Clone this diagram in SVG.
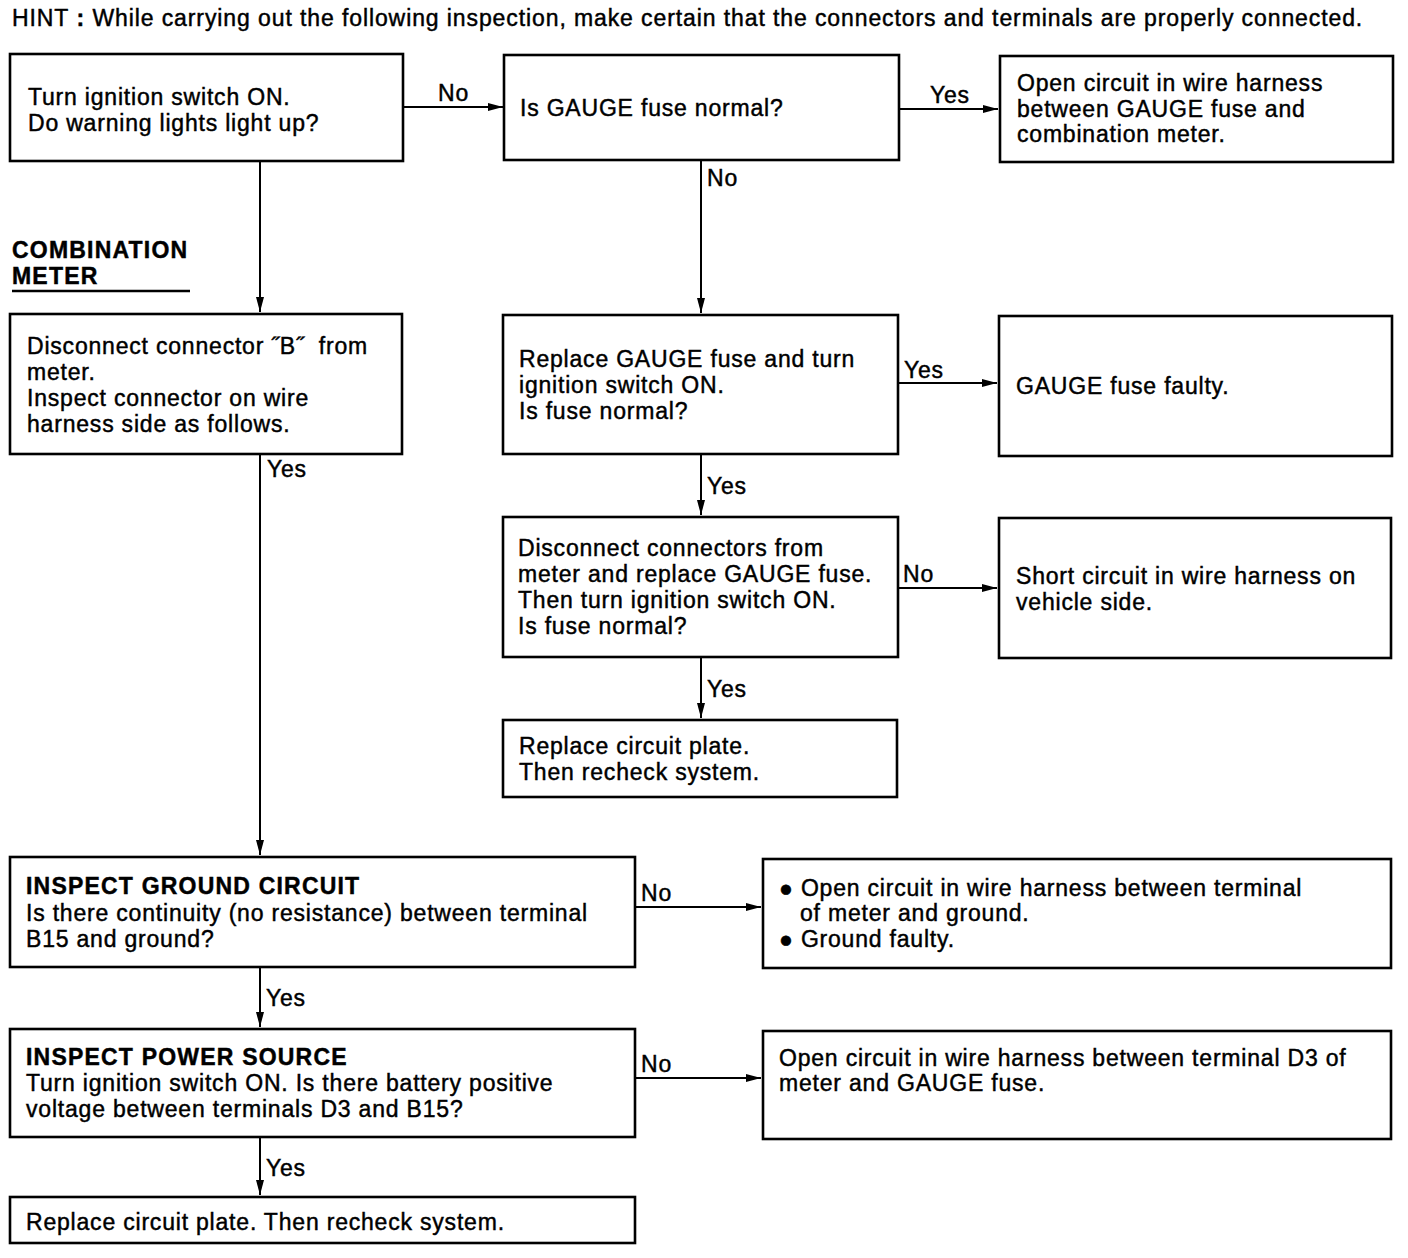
<svg xmlns="http://www.w3.org/2000/svg" width="1408" height="1258" viewBox="0 0 1408 1258">
<style>
text{font-family:"Liberation Sans",Arial,sans-serif;font-size:23px;fill:#000;letter-spacing:0.8px;stroke:#000;stroke-width:0.45px}
.b{font-weight:bold;letter-spacing:1.2px}
rect{fill:#fff;stroke:#000;stroke-width:2.6}
.c line,.c path{stroke:#000;stroke-width:2;fill:none}
</style>
<defs>
<marker id="a" markerUnits="userSpaceOnUse" markerWidth="16" markerHeight="10" refX="15" refY="5" orient="auto">
<path d="M0,1 L15,5 L0,9 Z" fill="#000"/>
</marker>
</defs>
<rect x="0" y="0" width="1408" height="1258" style="stroke:none"/>
<text x="12" y="26" style="letter-spacing:0.9px">HINT<tspan font-weight="bold"> : </tspan> While carrying out the following inspection, make certain that the connectors and terminals are properly connected.</text>

<g class="c" id="connectors">
<line x1="403" y1="107" x2="503" y2="107" marker-end="url(#a)"/>
<line x1="899" y1="109" x2="998" y2="109" marker-end="url(#a)"/>
<line x1="701" y1="160" x2="701" y2="313" marker-end="url(#a)"/>
<line x1="898" y1="383" x2="997" y2="383" marker-end="url(#a)"/>
<line x1="701" y1="454" x2="701" y2="515" marker-end="url(#a)"/>
<line x1="898" y1="588" x2="997" y2="588" marker-end="url(#a)"/>
<line x1="701" y1="657" x2="701" y2="718" marker-end="url(#a)"/>
<line x1="260" y1="161" x2="260" y2="312" marker-end="url(#a)"/>
<line x1="260" y1="454" x2="260" y2="855" marker-end="url(#a)"/>
<line x1="635" y1="907" x2="761" y2="907" marker-end="url(#a)"/>
<line x1="260" y1="967" x2="260" y2="1027" marker-end="url(#a)"/>
<line x1="635" y1="1078" x2="761" y2="1078" marker-end="url(#a)"/>
<line x1="260" y1="1137" x2="260" y2="1195" marker-end="url(#a)"/>
<line x1="12" y1="291" x2="190" y2="291" style="stroke-width:2.4"/>
<text x="438" y="101">No</text>
<text x="930" y="103">Yes</text>
<text x="707" y="186">No</text>
<text x="904" y="378">Yes</text>
<text x="707" y="494">Yes</text>
<text x="903" y="582">No</text>
<text x="707" y="697">Yes</text>
<text x="267" y="477">Yes</text>
<text x="641" y="901">No</text>
<text x="266" y="1006">Yes</text>
<text x="641" y="1072">No</text>
<text x="266" y="1176">Yes</text>
</g>

<g id="label-combination-meter">
<text class="b" x="12" y="258">COMBINATION</text>
<text class="b" x="12" y="284">METER</text>
</g>

<g id="n1"><rect x="10" y="54" width="393" height="107"/>
<text x="28" y="105">Turn ignition switch ON.</text>
<text x="28" y="131">Do warning lights light up?</text></g>

<g id="n2"><rect x="504" y="55" width="395" height="105"/>
<text x="520" y="116">Is GAUGE fuse normal?</text></g>

<g id="n3"><rect x="1000" y="56" width="393" height="106"/>
<text x="1017" y="91">Open circuit in wire harness</text>
<text x="1017" y="117">between GAUGE fuse and</text>
<text x="1017" y="142">combination meter.</text></g>

<g id="n4"><rect x="503" y="315" width="395" height="139"/>
<text x="519" y="367">Replace GAUGE fuse and turn</text>
<text x="519" y="393">ignition switch ON.</text>
<text x="519" y="419">Is fuse normal?</text></g>

<g id="n5"><rect x="999" y="316" width="393" height="140"/>
<text x="1016" y="394">GAUGE fuse faulty.</text></g>

<g id="n6"><rect x="503" y="517" width="395" height="140"/>
<text x="518" y="556">Disconnect connectors from</text>
<text x="518" y="582">meter and replace GAUGE fuse.</text>
<text x="518" y="608">Then turn ignition switch ON.</text>
<text x="518" y="634">Is fuse normal?</text></g>

<g id="n7"><rect x="999" y="518" width="392" height="140"/>
<text x="1016" y="584">Short circuit in wire harness on</text>
<text x="1016" y="610">vehicle side.</text></g>

<g id="n8"><rect x="503" y="720" width="394" height="77"/>
<text x="519" y="754">Replace circuit plate.</text>
<text x="519" y="780">Then recheck system.</text></g>

<g id="n9"><rect x="10" y="314" width="392" height="140"/>
<text x="27" y="354">Disconnect connector ˝B˝ &#160;from</text>
<text x="27" y="380">meter.</text>
<text x="27" y="406">Inspect connector on wire</text>
<text x="27" y="432">harness side as follows.</text></g>

<g id="n10"><rect x="10" y="857" width="625" height="110"/>
<text class="b" x="26" y="894">INSPECT GROUND CIRCUIT</text>
<text x="26" y="921">Is there continuity (no resistance) between terminal</text>
<text x="26" y="947">B15 and ground?</text></g>

<g id="n11"><rect x="763" y="859" width="628" height="109"/>
<text x="779" y="896">● Open circuit in wire harness between terminal</text>
<text x="800" y="921">of meter and ground.</text>
<text x="779" y="947">● Ground faulty.</text></g>

<g id="n12"><rect x="10" y="1029" width="625" height="108"/>
<text class="b" x="26" y="1065">INSPECT POWER SOURCE</text>
<text x="26" y="1091">Turn ignition switch ON. Is there battery positive</text>
<text x="26" y="1117">voltage between terminals D3 and B15?</text></g>

<g id="n13"><rect x="763" y="1031" width="628" height="108"/>
<text x="779" y="1066">Open circuit in wire harness between terminal D3 of</text>
<text x="779" y="1091">meter and GAUGE fuse.</text></g>

<g id="n14"><rect x="10" y="1197" width="625" height="46"/>
<text x="26" y="1230">Replace circuit plate. Then recheck system.</text></g>
</svg>
